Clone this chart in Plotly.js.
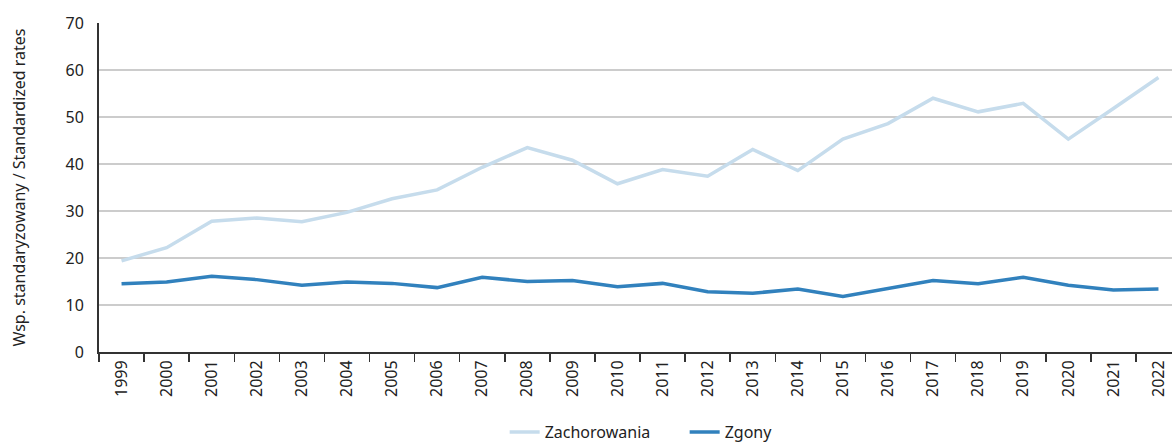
<!DOCTYPE html>
<html>
<head>
<meta charset="utf-8">
<script src="https://cdn.plot.ly/plotly-3.0.1.min.js"></script>
<style>html,body{margin:0;padding:0;background:#fff;overflow:hidden}</style>
</head>
<body>
<div id="chart" style="width:1172px;height:444px"></div>
<script>
const years = ["1999","2000","2001","2002","2003","2004","2005","2006","2007","2008","2009","2010","2011","2012","2013","2014","2015","2016","2017","2018","2019","2020","2021","2022"];
const zachorowania = [19.4,22.2,27.8,28.5,27.7,29.7,32.6,34.5,39.3,43.5,40.8,35.8,38.8,37.4,43.1,38.6,45.3,48.6,54.0,51.1,52.9,45.3,51.8,58.4];
const zgony = [14.5,14.9,16.1,15.4,14.2,14.9,14.6,13.7,15.9,15.0,15.2,13.9,14.6,12.8,12.5,13.4,11.8,13.5,15.2,14.5,15.9,14.2,13.2,13.4];
const seriesNames = ["Zachorowania","Zgony"];
const yTitle = "Wsp. standaryzowany / Standardized rates";

const font = {family: "Noto Sans, sans-serif", size: 16, color: "#222"};

const traces = [
  {x: years, y: zachorowania, name: seriesNames[0], type: "scatter", mode: "lines",
   line: {color: "#c6dcec", width: 3.5}},
  {x: years, y: zgony, name: seriesNames[1], type: "scatter", mode: "lines",
   line: {color: "#3181bd", width: 3.5}}
];

const layout = {
  width: 1172, height: 444,
  margin: {l: 99, r: 0, t: 23, b: 92},
  paper_bgcolor: "#fff", plot_bgcolor: "#fff",
  font: font,
  showlegend: true,
  legend: {orientation: "h", xref: "container", yref: "container",
           x: 0.4306, xanchor: "left", y: 0.027, yanchor: "middle",
           font: font, itemwidth: 30, entrywidth: 135, entrywidthmode: "pixels",
           traceorder: "normal"},
  xaxis: {
    type: "category", range: [-0.5, 23.3], automargin: false,
    tickson: "boundaries", ticks: "outside", ticklen: 8, tickwidth: 1.5, tickcolor: "#333",
    tickangle: -90, showgrid: false, showline: true, linecolor: "#333", linewidth: 2,
    tickfont: font, zeroline: false
  },
  yaxis: {
    range: [0, 70], tickvals: [0,10,20,30,40,50,60,70], automargin: false,
    showgrid: true, gridcolor: "#cccccc", gridwidth: 1.5,
    showline: true, linecolor: "#333", linewidth: 2,
    ticks: "outside", ticklen: 10, tickcolor: "rgba(0,0,0,0)",
    tickfont: font, zeroline: false,
    title: {text: yTitle, font: font, standoff: 36}
  }
};

Plotly.newPlot("chart", traces, layout, {displayModeBar: false, staticPlot: true});
</script>
</body>
</html>
